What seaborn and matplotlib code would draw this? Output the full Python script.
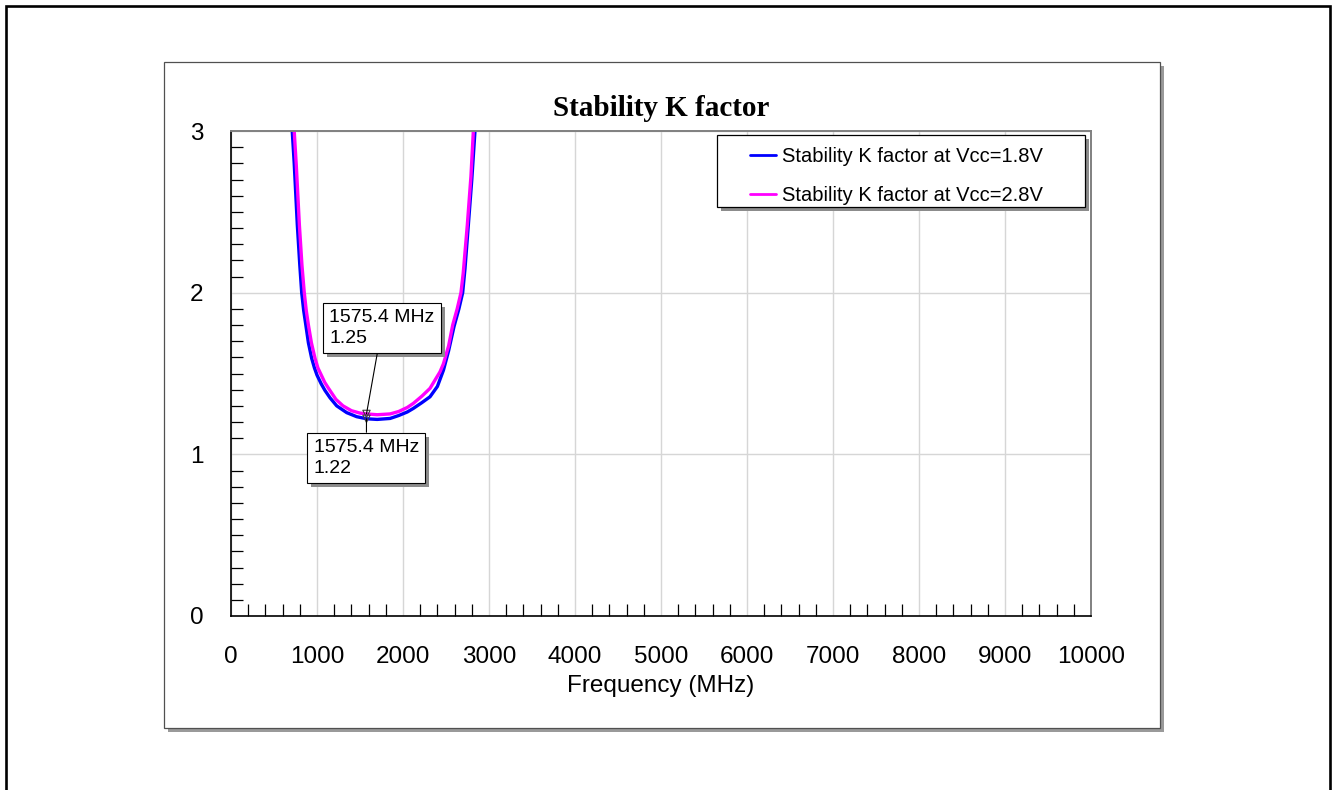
import matplotlib
matplotlib.use("Agg")
import matplotlib.pyplot as plt
from matplotlib.patches import Rectangle
from matplotlib.ticker import MultipleLocator
from matplotlib.transforms import IdentityTransform
import pandas as pd
import seaborn as sns

# Stability K factor vs. frequency for two supply voltages
freq_18 = [680, 712, 735, 771, 800, 822, 845, 870, 900, 938, 970, 1000, 1050, 1093,
           1151, 1229, 1345, 1461, 1575.4, 1700, 1850, 1950, 2050, 2120, 2220, 2314,
           2400, 2470, 2530, 2593, 2650, 2694, 2721, 2760, 2800, 2837, 2870]
k_18 = [3.30, 3.00, 2.80, 2.42, 2.17, 2.00, 1.89, 1.80, 1.69, 1.594, 1.535, 1.49,
        1.435, 1.395, 1.35, 1.30, 1.258, 1.233, 1.22, 1.216, 1.222, 1.24, 1.262,
        1.284, 1.32, 1.356, 1.42, 1.52, 1.64, 1.79, 1.90, 2.00, 2.15, 2.42, 2.70,
        3.00, 3.30]

freq_28 = [705, 735, 760, 795, 825, 852, 875, 900, 935, 977, 1010, 1050, 1090, 1132,
           1220, 1302, 1400, 1500, 1575.4, 1700, 1850, 1950, 2050, 2120, 2220, 2314,
           2430, 2470, 2530, 2578, 2630, 2674, 2700, 2748, 2790, 2818, 2850]
k_28 = [3.30, 3.00, 2.78, 2.42, 2.17, 2.00, 1.89, 1.80, 1.69, 1.594, 1.535, 1.49,
        1.445, 1.41, 1.34, 1.30, 1.27, 1.255, 1.25, 1.245, 1.25, 1.265, 1.29,
        1.315, 1.36, 1.408, 1.51, 1.56, 1.67, 1.80, 1.90, 2.00, 2.12, 2.42, 2.72,
        3.00, 3.30]

series_names = ["Stability K factor at Vcc=1.8V", "Stability K factor at Vcc=2.8V"]
series_colors = ["#0000ff", "#ff00ff"]

# Marker readouts at the GPS L1 frequency
marker_freq = [1575.4, 1575.4]
marker_k = [1.22, 1.25]

x_ticks = [0, 1000, 2000, 3000, 4000, 5000, 6000, 7000, 8000, 9000, 10000]
x_tick_labels = ["0", "1000", "2000", "3000", "4000", "5000", "6000", "7000",
                 "8000", "9000", "10000"]
y_ticks = [0, 1, 2, 3]
y_tick_labels = ["0", "1", "2", "3"]

title = "Stability K factor"
x_label = "Frequency (MHz)"

sns.set_theme(style="white")
plt.rcParams["font.family"] = ["Liberation Sans", "DejaVu Sans"]
plt.rcParams["text.color"] = "black"

W, H = 1332, 790
SHADOW = "#8c8c8c"
fig = plt.figure(figsize=(W / 100, H / 100), dpi=100)


def fx(px):
    return px / W


def fy(py):
    return 1 - py / H


# outer frame
fig.patches.append(Rectangle((fx(6), -0.05), fx(1330) - fx(6), fy(6) + 0.05,
                             transform=fig.transFigure, fill=False,
                             edgecolor="black", linewidth=1.9, zorder=-3))
# chart panel with drop shadow
pl, pt, pr, pb = 164, 62, 1160, 728
fig.patches.append(Rectangle((fx(pl + 4), fy(pb + 4)), fx(pr - pl), fy(pt) - fy(pb),
                             transform=fig.transFigure, facecolor="#9a9a9a",
                             edgecolor="none", zorder=-2))
fig.patches.append(Rectangle((fx(pl), fy(pb)), fx(pr - pl), fy(pt) - fy(pb),
                             transform=fig.transFigure, facecolor="white",
                             edgecolor="#505050", linewidth=0.9, zorder=-1))

ax = fig.add_axes([fx(231), fy(616), fx(1091 - 231), fy(131) - fy(616)])
ax.set_facecolor("none")

df = pd.concat([
    pd.DataFrame({"freq": freq_18, "k": k_18, "series": series_names[0]}),
    pd.DataFrame({"freq": freq_28, "k": k_28, "series": series_names[1]}),
], ignore_index=True)

sns.lineplot(data=df, x="freq", y="k", hue="series", hue_order=series_names,
             palette=dict(zip(series_names, series_colors)), estimator=None,
             sort=True, linewidth=2.4, legend=False, ax=ax, zorder=2)
for ln in ax.get_lines():
    ln.set_solid_joinstyle("round")

sns.scatterplot(x=marker_freq, y=marker_k, marker="v", s=28,
                facecolor="none", edgecolor="#404040", linewidth=0.8,
                ax=ax, zorder=3, legend=False)

ax.set_xlim(0, 10000)
ax.set_ylim(0, 3)
ax.set_xticks(x_ticks)
ax.set_xticklabels(x_tick_labels)
ax.set_yticks(y_ticks)
ax.set_yticklabels(y_tick_labels)
ax.xaxis.set_minor_locator(MultipleLocator(200))
ax.yaxis.set_minor_locator(MultipleLocator(0.1))
ax.tick_params(axis="x", which="major", length=0, pad=21.5, labelsize=17.5,
               labelcolor="black")
ax.tick_params(axis="y", which="major", length=0, pad=20, labelsize=17.5,
               labelcolor="black")
ax.tick_params(which="minor", direction="in", length=8.6, width=0.9,
               color="black", bottom=True, left=True, top=False, right=False)
ax.grid(True, which="major", color="#d6d6d6", linewidth=1.0)
ax.set_axisbelow(True)

ax.set_xlabel(x_label, fontsize=17.5, labelpad=5, color="black")
ax.set_ylabel("")

for side in ("left", "bottom"):
    ax.spines[side].set_color("black")
    ax.spines[side].set_linewidth(1.2)
for side in ("top", "right"):
    ax.spines[side].set_color("#808080")
    ax.spines[side].set_linewidth(1.4)

fig.text(fx(661), fy(116), title, ha="center", va="baseline", fontsize=21,
         family=["Liberation Serif", "DejaVu Serif"], weight="bold", color="black")

# legend box with drop shadow
ll, lt, lr, lb = 716.7, 135, 1085, 207
ax.add_patch(Rectangle((fx(ll + 4), fy(lb + 4)), fx(lr - ll), fy(lt) - fy(lb),
                       transform=fig.transFigure, facecolor=SHADOW,
                       edgecolor="none", zorder=4, clip_on=False))
ax.add_patch(Rectangle((fx(ll), fy(lb)), fx(lr - ll), fy(lt) - fy(lb),
                       transform=fig.transFigure, facecolor="white",
                       edgecolor="black", linewidth=0.9, zorder=4.5, clip_on=False))
leg = ax.legend(handles=ax.get_lines()[:2], labels=series_names,
                loc="upper left", bbox_to_anchor=(fx(750), fy(147)),
                bbox_transform=fig.transFigure, frameon=False, fontsize=14.5,
                handlelength=1.3, handletextpad=0.3, labelspacing=0.99,
                borderpad=0, borderaxespad=0, labelcolor="black")
for h in leg.get_lines():
    h.set_linewidth(2.0)
leg.set_zorder(5)

# marker readout boxes
readouts = [
    (marker_freq[1], marker_k[1], 329.1, 309.1),
    (marker_freq[0], marker_k[0], 313.7, 439.1),
]
notes = []
for f, k, tx, ty in readouts:
    label = f"{f:.1f} MHz\n{k:.2f}"
    ann = ax.annotate(label, xy=(f, k), xycoords="data",
                      xytext=(tx, H - ty), textcoords="figure pixels",
                      ha="left", va="top", fontsize=14, linespacing=1.3,
                      color="black",
                      bbox=dict(boxstyle="square,pad=0.33", facecolor="white",
                                edgecolor="black", linewidth=0.8),
                      arrowprops=dict(arrowstyle="-", color="black", lw=0.8,
                                      shrinkA=0, shrinkB=0),
                      zorder=7, annotation_clip=False)
    notes.append(ann)

# drop shadows behind the readout boxes
fig.canvas.draw()
for ann in notes:
    ext = ann.get_bbox_patch().get_window_extent()
    ax.add_patch(Rectangle((ext.x0 + 4, ext.y0 - 4), ext.width, ext.height,
                           transform=IdentityTransform(), facecolor=SHADOW,
                           edgecolor="none", zorder=6, clip_on=False))

fig.savefig("out.png", dpi=100)
